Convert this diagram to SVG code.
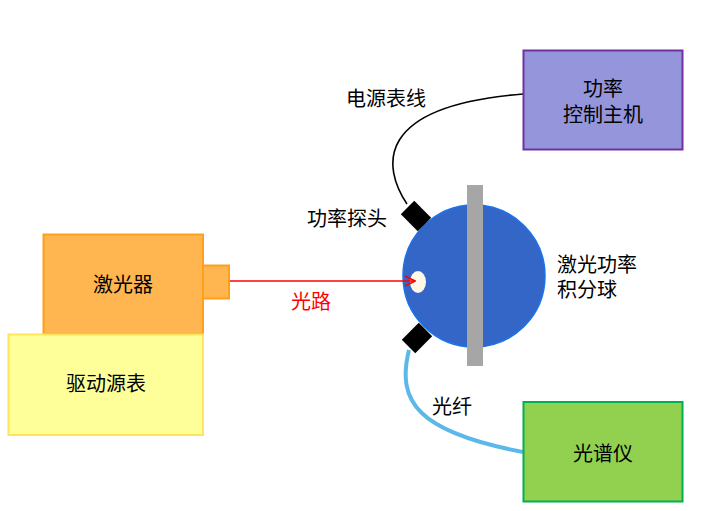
<svg xmlns="http://www.w3.org/2000/svg" width="709" height="511" viewBox="0 0 709 511">
<defs>
<style>
text{font-family:"Noto Sans CJK SC","Noto Sans",sans-serif;font-size:20px;fill:#000;}
.c{text-anchor:middle;dominant-baseline:central;}
.l{dominant-baseline:central;}
.probe{fill:#000;}
</style>
<marker id="arr" viewBox="0 0 12 12" refX="11" refY="6" markerWidth="12" markerHeight="12" markerUnits="userSpaceOnUse" orient="auto">
<path d="M1,1 L11,6 L1,11" fill="none" stroke="#ff0000" stroke-width="1.6"/>
</marker>
</defs>
<rect width="709" height="511" fill="#fff"/>
<g id="sphere">
<circle cx="474" cy="276" r="71" fill="#3366c6" stroke="#1a73e8" stroke-width="1.5"/>
<rect x="467" y="185" width="16" height="181" fill="#a6a6a6"/>
<ellipse cx="418" cy="282" rx="8" ry="11" fill="#fdf8e8"/>
</g>
<g id="connectors">
<path d="M407,204 C383,168 372,106 523,94" fill="none" stroke="#000" stroke-width="1.6"/>
<path d="M409,350 C396,402 418,432 523,452" fill="none" stroke="#5cb8e8" stroke-width="4"/>
<line x1="230" y1="281" x2="415" y2="281" stroke="#ff0000" stroke-width="1.5" marker-end="url(#arr)"/>
</g>
<g id="probe-top">
<rect x="404" y="206.5" width="24" height="19" class="probe" transform="rotate(45 416 216)"/>
</g>
<g id="probe-bottom">
<rect x="405" y="328.5" width="24" height="19" class="probe" transform="rotate(-45 417 338)"/>
</g>
<g id="power-host">
<rect x="523.5" y="50.5" width="159" height="99" fill="#9595dc" stroke="#7030a0" stroke-width="2"/>
<text class="c" x="603" y="87">功率</text>
<text class="c" x="603" y="113">控制主机</text>
</g>
<g id="spectrometer">
<rect x="523.5" y="402" width="159" height="99.5" fill="#92d050" stroke="#00b050" stroke-width="2"/>
<text class="c" x="603" y="452">光谱仪</text>
</g>
<g id="laser">
<rect x="43.5" y="234.5" width="159.5" height="99.5" fill="#ffb550" stroke="#ff9f1a" stroke-width="2"/>
<rect x="203" y="265.5" width="26" height="33" fill="#ffb550" stroke="#ff9f1a" stroke-width="2"/>
<text class="c" x="123" y="283">激光器</text>
</g>
<g id="driver">
<rect x="8.5" y="334.5" width="194.5" height="100.5" fill="#ffff99" stroke="#ffe45c" stroke-width="2"/>
<text class="c" x="106" y="382">驱动源表</text>
</g>
<g id="labels">
<text class="l" x="346" y="97">电源表线</text>
<text class="l" x="307" y="217">功率探头</text>
<text class="l" x="557" y="263">激光功率</text>
<text class="l" x="557" y="288">积分球</text>
<text class="l" x="291" y="300" style="fill:#ff0000">光路</text>
<text class="l" x="432" y="405">光纤</text>
</g>
</svg>
